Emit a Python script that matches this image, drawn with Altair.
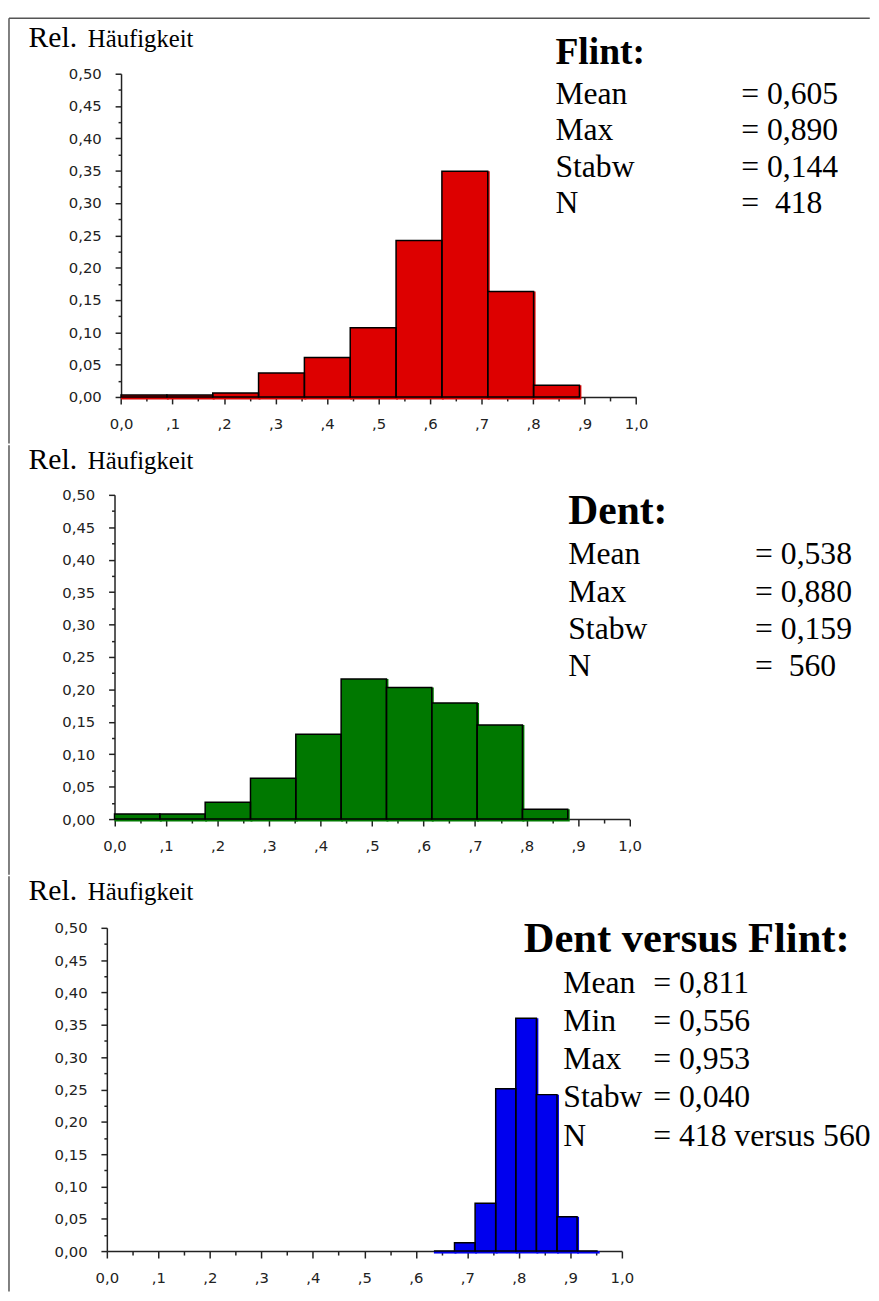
import altair as alt
import pandas as pd

# ---------------- data ----------------
flint_start = [0.000, 0.089, 0.178, 0.267, 0.356, 0.445, 0.534, 0.623, 0.712, 0.801]
flint_end   = [0.089, 0.178, 0.267, 0.356, 0.445, 0.534, 0.623, 0.712, 0.801, 0.890]
flint_freq  = [0.003, 0.003, 0.006, 0.037, 0.061, 0.107, 0.242, 0.349, 0.163, 0.018]

dent_start = [0.000, 0.088, 0.176, 0.264, 0.352, 0.440, 0.528, 0.616, 0.704, 0.792]
dent_end   = [0.088, 0.176, 0.264, 0.352, 0.440, 0.528, 0.616, 0.704, 0.792, 0.880]
dent_freq  = [0.008, 0.008, 0.026, 0.063, 0.131, 0.216, 0.203, 0.179, 0.145, 0.015]

dvf_start = [0.635, 0.675, 0.715, 0.755, 0.794, 0.834, 0.874, 0.913]
dvf_end   = [0.675, 0.715, 0.755, 0.794, 0.834, 0.874, 0.913, 0.953]
dvf_freq  = [0.000, 0.013, 0.074, 0.251, 0.360, 0.242, 0.053, 0.000]

flint_labels = ["Mean", "Max", "Stabw", "N"]
flint_values = ["= 0,605", "= 0,890", "= 0,144", "= \u00a0418"]
dent_labels = ["Mean", "Max", "Stabw", "N"]
dent_values = ["= 0,538", "= 0,880", "= 0,159", "= \u00a0560"]
dvf_labels = ["Mean", "Min", "Max", "Stabw", "N"]
dvf_values = ["= 0,811", "= 0,556", "= 0,953", "= 0,040", "= 418 versus 560"]

x_tick_values = [round(i * 0.05, 2) for i in range(21)]
y_tick_values = [round(i * 0.025, 3) for i in range(21)]

# ---------------- layout constants ----------------
X0 = 106.25                      # page x of the common group origin
ORIGIN = [66.75, 492.75, 930.75]  # page y of each panel's plot top
SERIF = "Liberation Serif"
SANS = "DejaVu Sans"
AX = "#222222"
BORDER = "#555555"
one = pd.DataFrame({"k": [0]})


def txt(text, px, py, origin, size, bold=False, line_height=None):
    props = dict(align="left", baseline="alphabetic", font=SERIF,
                 fontSize=size, color="black")
    if bold:
        props["fontWeight"] = "bold"
    if line_height:
        props["lineHeight"] = line_height
    return alt.Chart(one).mark_text(**props).encode(
        x=alt.value(px - X0), y=alt.value(py - origin), text=alt.value(text))


def rule(x, y, x2=None, y2=None):
    enc = dict(x=alt.value(x), y=alt.value(y))
    if x2 is not None:
        enc["x2"] = alt.value(x2)
    if y2 is not None:
        enc["y2"] = alt.value(y2)
    return alt.Chart(one).mark_rule(color=BORDER, strokeWidth=1.5).encode(**enc)


X_LABEL = ("datum.value == 0 ? '0,0' : datum.value >= 0.999 ? '1,0' : "
           "(abs(datum.value*10 - round(datum.value*10)) > 0.001 ? '' : "
           "',' + format(datum.value*10, '.0f'))")
Y_LABEL = ("abs(datum.value*20 - round(datum.value*20)) > 0.001 ? '' : "
           "replace(format(datum.value, '.2f'), '.', ',')")
X_MINOR = "abs(datum.value*10 - round(datum.value*10)) > 0.001"
Y_MINOR = "abs(datum.value*20 - round(datum.value*20)) > 0.001"


def panel(idx, start, end, freq, color, axis_px, height, top, bottom,
          title, title_pos, title_size, labels, values, lab_px, val_px,
          first_py, lh, stat_size, rel_py, top_border=False):
    origin = ORIGIN[idx]
    dx = axis_px - X0
    df = pd.DataFrame({"start": start, "end": end, "freq": freq})
    x = alt.X("start:Q",
              scale=alt.Scale(domain=[0, 1], range=[dx, dx + 521], nice=False, zero=False),
              axis=alt.Axis(values=x_tick_values, labelExpr=X_LABEL, title=None, grid=False,
                            tickSize={"condition": {"test": X_MINOR, "value": 4}, "value": 7},
                            tickColor=AX, tickWidth=1.5, domainColor=AX, domainWidth=1.5,
                            labelFont=SANS, labelFontSize=15, labelColor=AX,
                            labelPadding=13, labelOverlap=False, labelFlush=False))
    y = alt.Y("freq:Q",
              scale=alt.Scale(domain=[0, 0.5], nice=False),
              axis=alt.Axis(values=y_tick_values, labelExpr=Y_LABEL, title=None, grid=False,
                            tickSize={"condition": {"test": Y_MINOR, "value": 3}, "value": 6},
                            tickColor=AX, tickWidth=1.5, domainColor=AX, domainWidth=1.5,
                            labelFont=SANS, labelFontSize=15, labelColor=AX,
                            labelPadding=14, labelOverlap=False, offset=-dx))
    base = alt.Chart(df).encode(x=x, x2=alt.X2("end"), y=y, y2=alt.datum(0))
    fill = base.mark_rect(color=color, x2Offset=2, y2Offset=2.5, strokeWidth=0)
    outline = base.mark_rect(fillOpacity=0, stroke="black", strokeWidth=1.5)

    layers = [fill, outline,
              rule(7.75 - X0 - 0.5, top, y2=bottom),
              txt("Rel.", 27, rel_py, origin, 30),
              txt("Häufigkeit", 87, rel_py, origin, 25),
              txt(title, title_pos[0], title_pos[1], origin, title_size, bold=True),
              txt(labels, lab_px, first_py, origin, stat_size, line_height=lh),
              txt(values, val_px, first_py, origin, stat_size, line_height=lh)]
    if top_border:
        layers.append(rule(7.75 - X0 - 0.5, top, x2=878 - X0))
    return alt.layer(*layers).properties(width=541, height=height)


p1 = panel(0, flint_start, flint_end, flint_freq, "#dd0000", 120.6, 327, -56, 374,
           "Flint:", (560, 57), 38, flint_labels, flint_values, 560, 748, 97, 37, 32, 40,
           top_border=True)
p2 = panel(1, dent_start, dent_end, dent_freq, "#007800", 114, 328, -50.25, 384.25,
           "Dent:", (573, 522), 42, dent_labels, dent_values, 573, 762, 563, 37.7, 32, 467)
p3 = panel(2, dvf_start, dvf_end, dvf_freq, "#0000ee", 106.25, 327, -52.25, 368,
           "Dent versus Flint:", (528, 955), 43, dvf_labels, dvf_values, 568, 659, 997, 38.5, 32, 903)

chart = alt.vconcat(p1, p2, p3, spacing=0).resolve_scale(
    x="independent", y="independent"
).properties(
    padding={"left": 0, "top": 2, "right": 0, "bottom": 0},
    background="white",
).configure_view(strokeWidth=0)

chart.save("out.html", embed_options={"renderer": "svg", "actions": False})
